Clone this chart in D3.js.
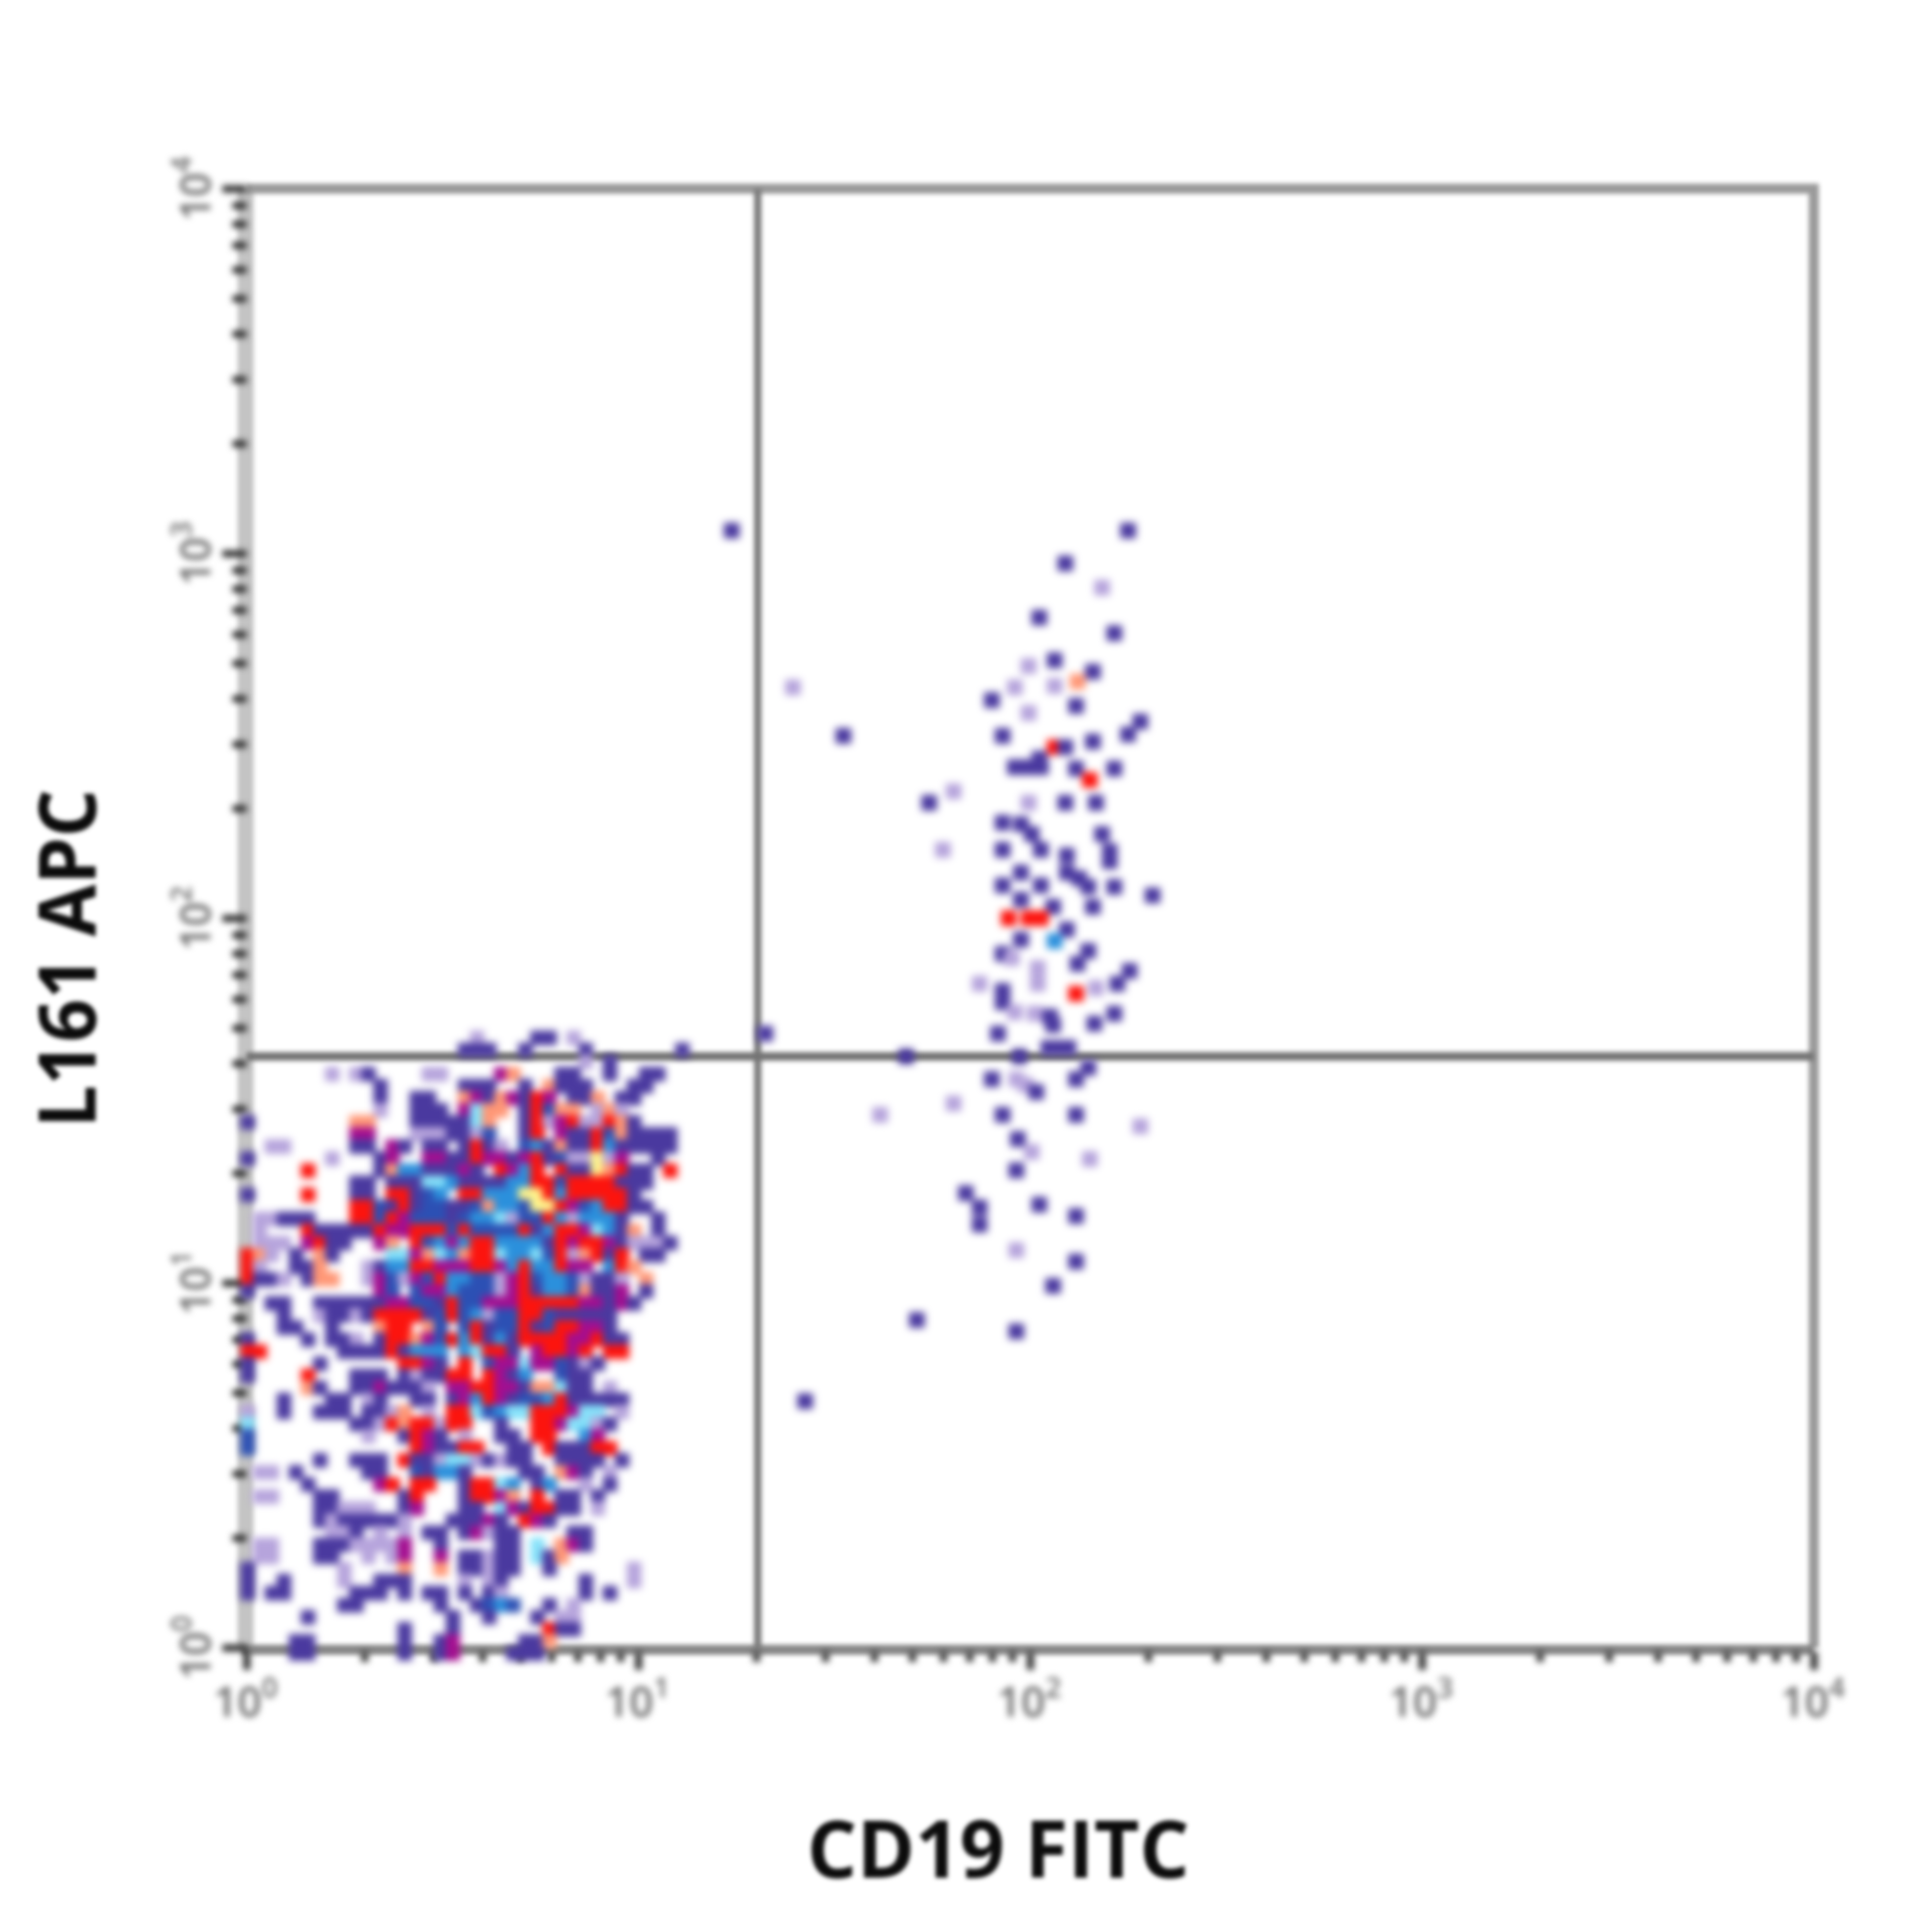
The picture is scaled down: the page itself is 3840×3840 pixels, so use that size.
<!DOCTYPE html>
<html><head><meta charset="utf-8">
<script src="https://cdn.jsdelivr.net/npm/d3@7"></script>
<style>html,body{margin:0;padding:0;background:#fff}svg{display:block}</style></head>
<body><div id="chart"></div>
<script>
// Axis titles and decades
const xTitle = "CD19 FITC";
const yTitle = "L161 APC";
const decades = [0, 1, 2, 3, 4];
const minorSteps = [2, 3, 4, 5, 6, 7, 8, 9];
// Quadrant gates, instrument channels (1024 channels over 4 decades)
const gateX = 334;
const gateY = 415;
// Density level of each event bin in the CD19-low population, read top row first.
// . none  p 1 faint  u low  d mid  b mid-high  c high  y highest  m/r/o transition colours
const densityRows = [
"...................p....uu.p............",
"..................uuu..u....u.......u...",
"............................p.u.........",
".......p.pu....pp....mo...uu..u..uu.....",
"...........u......uuu..u.ouuu...uu......",
"...........u..uu..omuomurm.uuo.uu.......",
"...........p..uuu.mcoo.urdoo.pop........",
"u........oo...uuuuuco..urpmrpprou.......",
".........mm...pppuupd..ur.muurdouuuu....",
"..pp.....uu.mu.uu.urup.dbuouurbuuuuu....",
"u......p...um..mmuurmmumrudppypm..u.....",
".....r.....uobbuuumu.rmbr.ruuyoruu.r....",
".........uu.uuuccbuuuubbrrdrrrruuu......",
"u....r...uu.rrudb.rrbbbyyrbrrrrru.......",
".........rrdurudduudobbdyyrmdbrruu......",
".ppuuu...rrdrmdddudbbcpddrbpbbbu..u.....",
".p...ruuuuurmmrrrdrddddrubrrmcbuo.u.....",
".ppp.mruu..mo.rdbmbrrbbbburmrrmupppu....",
"rop.u.ou....ccmocborrcbbcdrporur.uu.....",
"rp..uuo...pubbrrmmmrrmbrbbrmm.bro.......",
"ruup.uoo..pmdpmdrbbddpmrdbbdpuup.o......",
"u..........md.dmmbdddpmrubbdouum.u......",
"..uu..uuuuuummddurddmmmrrrrrmmumu.......",
"...u..puupurrrrudrdbpddrrduuuuu.........",
"...uu..u...orr.od.druddrudrrmmu.........",
"u....u.uup.urromdrbruburrrrmmruu........",
"rr......uuuurubbb.bcrru.mrrmr.rr........",
"u.....u......rrmu.r.dmmcmmdupu..........",
"u....r...uuu.upuurr.rmub..duu...........",
".....ou..uumuuup.mmrrmmuoocuu.p.........",
"...u...uu.pu..uu.umbrmuddbruuuuu........",
"p..u..uuu.uupo.p.rrcdbccrrrmcc.p........",
"c........uuprorrprr..u..rrmccpu.........",
"d.........p..urmu.p..uu.rr..bm..........",
"d.............rmuurr..uu.ruuurr.........",
"......u..uuu.ruupccpupuu..uuuu.u........",
".pp.u.....uu..dubbu....uu.omu.p.........",
".....u.....mr.rr..urrcb.ub..p.u.........",
".pp...uu.....ur...urrmo.r.uu.u..........",
"......uuppp..um...uu.cmurruu.p..........",
"......upuuuuup...uuumu.rmu..............",
".......ppu.p.p.uu.umpuu....uu...........",
".pp...uuuppppm..u....uu.c.omu...........",
".pp...uu..p.pm..m.uupuu.cuo.............",
"u.......p....o..o.uupuu..u......p.......",
"u..u....p..uuu....p.pu......u...p.......",
"u.uu.....uuu.u.uu.u.up......u.u.........",
"........uu......u..udbd..u.p............",
".....u...........u..u...u.pp............",
".............u...u.......ruu............",
"....uu.......u..um.....uuo..............",
"....uu.......u..um....uuu..............."
];
// Sparse CD19-high events: channel values and density level
const sparseX = [317,576,535,559,518,567,528,511,553,543,528,502,487,542,511,584,576,357,390,494,528,535,553,502,511,519,518,542,567,551,462,446,511,535,555,494,506,513,519,494,455,559,564,564,536,536,544,550,567,506,494,519,506,592,527,553,498,511,519,536,506,528,494,550,543,500,517,577,569,479,494,517,555,542,494,502,515,525,527,554,567,491,339,431,505,524,531,537,550,542,487,503,509,516,462,414,494,542,584,504,513,551,503,470,479,479,518,542,503,542,527,438,503,365];
const sparseY = [784,784,761,744,723,712,693,689,685,678,675,674,665,661,656,650,641,674,640,640,632,632,636,618,618,618,624,617,617,609,601,593,593,593,593,579,578,571,560,560,560,571,552,559,556,544,540,534,534,544,535,535,525,528,520,520,512,512,512,504,497,496,487,489,480,484,477,475,466,466,461,466,463,459,453,446,445,443,437,438,445,431,431,415,415,421,421,421,407,399,399,399,395,390,382,374,374,374,366,357,348,343,335,319,309,297,311,303,279,271,254,230,222,173];
const sparseLevel = ("uuupuuupuo"+"ppuupuupuu"+"ruuuuuuuur"+"pupuuuuuuu"+"puuuuuuuuu"+"uuuuuurrru"+"ubuuuppuup"+"upprupp"+"uuu"+"uuuuuuuuuu"+"uppuppuupu"+"ppuuuuuupu"+"uuuu").split("");
const levelColors = {p:"#b6a4dc",u:"#4a399f",d:"#2c50b4",b:"#2b90dc",c:"#86e2fa",y:"#fff58c",m:"#a40e90",r:"#fc140e",o:"#ff9776"};
// Bin layout of the density grid, in channels
const binWidthX = 7.888, binWidthY = 8.471, binOriginX = -3.3, binTopY = 432.4;

const W = 3840, H = 3840;
const M = {l:490, r:3605, t:375, b:3275};
const xChan = d3.scaleLinear().domain([0,1024]).range([M.l,M.r]);
const yChan = d3.scaleLinear().domain([0,1024]).range([M.b,M.t]);
const xLog = d3.scaleLog().domain([1,1e4]).range([M.l,M.r]);
const yLog = d3.scaleLog().domain([1,1e4]).range([M.b,M.t]);

const svg = d3.select("#chart").append("svg").attr("width",W).attr("height",H).attr("viewBox",`0 0 ${W} ${H}`);
svg.append("rect").attr("width",W).attr("height",H).attr("fill","#fff");
const defs = svg.append("defs");
[["blurDots",8],["blurLines",5],["blurTicks",7],["blurTitle",4.5]].forEach(([id,s])=>{
  defs.append("filter").attr("id",id).attr("filterUnits","userSpaceOnUse")
    .attr("x",0).attr("y",0).attr("width",W).attr("height",H)
    .attr("color-interpolation-filters","sRGB")
    .append("feGaussianBlur").attr("stdDeviation",s);
});

// Frame, axis band, gates
const lines = svg.append("g").attr("filter","url(#blurLines)");
lines.append("rect").attr("x",M.l-18).attr("y",M.t).attr("width",32).attr("height",M.b-M.t).attr("fill","#c4c4c4");
lines.append("path").attr("d",`M${xLog.range()[0]},${yLog.range()[1]}H${xLog.range()[1]}V${yLog.range()[0]}`)
  .attr("fill","none").attr("stroke","#9a9a9a").attr("stroke-width",20);
lines.append("line").attr("x1",M.l-8).attr("x2",M.r).attr("y1",M.b+4).attr("y2",M.b+4).attr("stroke","#888").attr("stroke-width",20);
lines.append("line").attr("x1",xChan(gateX)).attr("x2",xChan(gateX)).attr("y1",M.t).attr("y2",M.b).attr("stroke","#7d7d7d").attr("stroke-width",15);
lines.append("line").attr("x1",M.l).attr("x2",M.r).attr("y1",yChan(gateY)).attr("y2",yChan(gateY)).attr("stroke","#747474").attr("stroke-width",17);

// Log ticks via d3 axes
const tickVals = [];
decades.forEach(d=>{ tickVals.push(Math.pow(10,d)); if(d<4) minorSteps.forEach(s=>tickVals.push(s*Math.pow(10,d))); });
const ticks = svg.append("g").attr("filter","url(#blurTicks)");
const axB = ticks.append("g").attr("transform",`translate(0,${M.b+8})`)
  .call(d3.axisBottom(xLog).tickValues(tickVals).tickSize(20).tickFormat(""));
const axL = ticks.append("g").attr("transform",`translate(${M.l-14},0)`)
  .call(d3.axisLeft(yLog).tickValues(tickVals).tickSize(14).tickFormat(""));
[axB,axL].forEach(a=>{
  a.select(".domain").remove();
  a.selectAll(".tick line").attr("stroke","#2e2e2e").attr("stroke-width",14);
});
axL.selectAll(".tick line").attr("x2",14).attr("x1",-14);
axB.selectAll(".tick line").filter(d=>decades.includes(Math.log10(d))).attr("y2",36);
axL.selectAll(".tick line").filter(d=>decades.includes(Math.log10(d))).attr("x1",-34);

// Decade labels
const labelColor = "#6a6a6a";
const tickFont = "'Open Sans',sans-serif";
const xLab = ticks.append("g");
decades.forEach(d=>{
  const t = xLab.append("text").attr("x",xLog(Math.pow(10,d))-66).attr("y",M.b+137)
    .attr("font-family",tickFont).attr("font-weight",600).attr("font-size",84).attr("fill",labelColor).text("10");
  t.append("tspan").attr("font-size",56).attr("dy",-38).text(d);
});
const yLab = ticks.append("g");
decades.forEach(d=>{
  const yy = yLog(Math.pow(10,d));
  const t = yLab.append("text").attr("transform",`translate(${M.l-72},${yy+64}) rotate(-90)`)
    .attr("font-family",tickFont).attr("font-weight",600).attr("font-size",84).attr("fill",labelColor).text("10");
  t.append("tspan").attr("font-size",56).attr("dy",-38).text(d);
});

// Density cells
const cells = [];
densityRows.forEach((row,r)=>{
  row.split("").forEach((lv,c)=>{
    if(levelColors[lv]) cells.push({cx:binOriginX+c*binWidthX, cy:binTopY-r*binWidthY, lv});
  });
});
const dots = svg.append("g").attr("filter","url(#blurDots)");
const cellW = xChan(binWidthX)-xChan(0), cellH = yChan(0)-yChan(binWidthY);
dots.selectAll("rect.cell").data(cells).join("rect").attr("class","cell")
  .attr("x",d=>xChan(d.cx)-2).attr("y",d=>yChan(d.cy)-2)
  .attr("width",cellW+5).attr("height",cellH+5).attr("fill",d=>levelColors[d.lv]);
const sparseSize = 1.3;
dots.selectAll("rect.sparse").data(sparseX.map((x,i)=>({x,y:sparseY[i],lv:sparseLevel[i]||"u"})))
  .join("rect").attr("class","sparse")
  .attr("x",d=>xChan(d.x)-cellW*sparseSize/2).attr("y",d=>yChan(d.y)-cellH*sparseSize/2)
  .attr("width",cellW*sparseSize).attr("height",cellH*sparseSize).attr("fill",d=>levelColors[d.lv]);

// Axis titles
const titles = svg.append("g").attr("filter","url(#blurTitle)");
titles.append("text").attr("x",1984).attr("y",3732).attr("text-anchor","middle")
  .attr("font-family","'Open Sans',sans-serif").attr("font-weight",700).attr("font-size",158)
  .attr("textLength",760).attr("lengthAdjust","spacingAndGlyphs").attr("fill","#0c0c0c").text(xTitle);
titles.append("text").attr("transform","translate(190,1905) rotate(-90)").attr("text-anchor","middle")
  .attr("font-family","'Open Sans',sans-serif").attr("font-weight",700).attr("font-size",158)
  .attr("textLength",673).attr("lengthAdjust","spacingAndGlyphs").attr("fill","#0c0c0c").text(yTitle);
</script></body></html>
